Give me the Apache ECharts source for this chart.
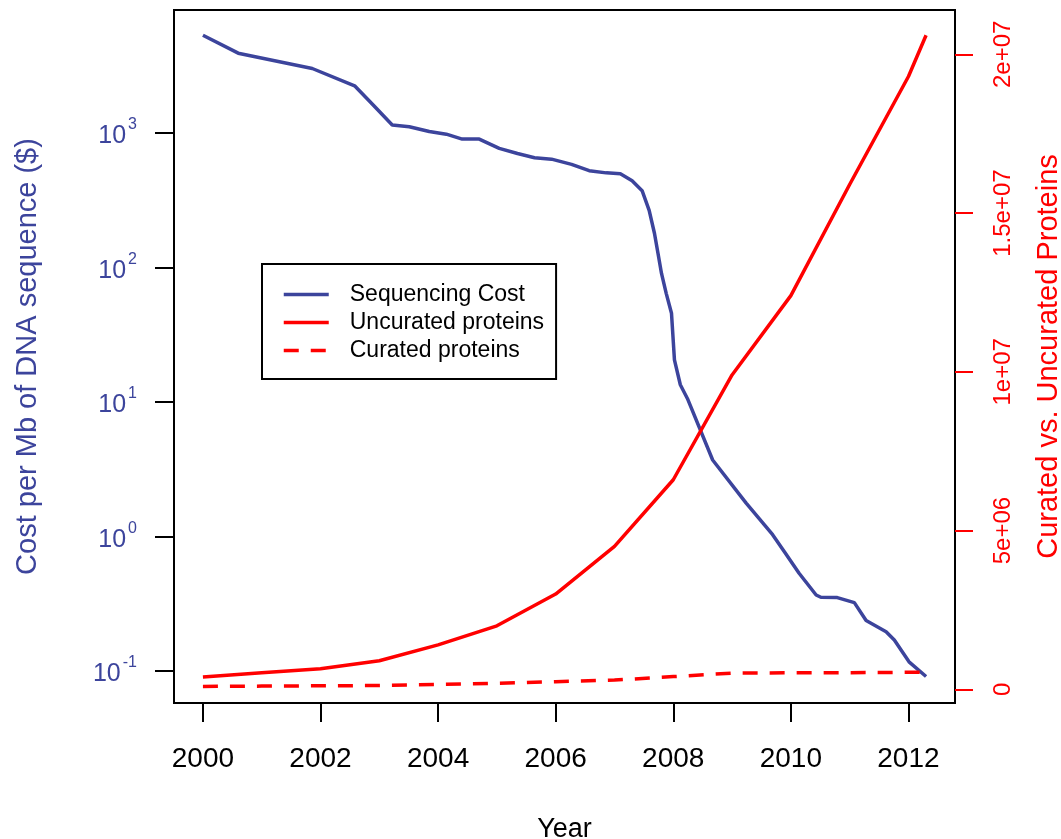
<!DOCTYPE html>
<html><head><meta charset="utf-8">
<script src="https://cdn.jsdelivr.net/npm/echarts@6/dist/echarts.min.js"></script>
<style>html,body{margin:0;padding:0;background:#fff}#c{width:1061px;height:839px}</style>
</head><body><div id="c"></div>
<script>
// ---- data ----
const costYears = [2000.0, 2000.6, 2001.86, 2002.58, 2002.9, 2003.22, 2003.51, 2003.85, 2004.14, 2004.41, 2004.70, 2005.04, 2005.35, 2005.64, 2005.93, 2006.27, 2006.57, 2006.86, 2007.10, 2007.30, 2007.47, 2007.59, 2007.68, 2007.74, 2007.80, 2007.88, 2007.97, 2008.02, 2008.12, 2008.24, 2008.67, 2009.24, 2009.69, 2009.89, 2010.14, 2010.43, 2010.51, 2010.79, 2011.08, 2011.28, 2011.62, 2011.76, 2012.01, 2012.30];
const costValues = [5300, 3900, 3000, 2230, 1600, 1140, 1108, 1020, 975, 897, 897, 765, 700, 652, 636, 582, 522, 503, 496, 440, 371, 265, 179, 127, 90, 64, 45.5, 20.5, 13.4, 10.6, 3.7, 1.77, 1.03, 0.77, 0.533, 0.367, 0.353, 0.351, 0.322, 0.237, 0.196, 0.170, 0.117, 0.091];
const proteinYears = [2000, 2001, 2002, 2003, 2004, 2005, 2006, 2007, 2008, 2009, 2010, 2011, 2012, 2012.3];
const uncurated = [390000, 520000, 650000, 900000, 1400000, 2000000, 3000000, 4500000, 6600000, 9900000, 12400000, 15900000, 19300000, 20600000];
const curated = [90000, 100000, 110000, 120000, 150000, 190000, 240000, 290000, 400000, 510000, 520000, 525000, 535000, 537000];
const xTicks = [2000, 2002, 2004, 2006, 2008, 2010, 2012];
const leftTicks = [0.1, 1, 10, 100, 1000];
const rightTicks = [0, 5000000, 10000000, 15000000, 20000000];
const rightTickLabels = ['0', '5e+06', '1e+07', '1.5e+07', '2e+07'];
const seriesNames = ['Sequencing Cost', 'Uncurated proteins', 'Curated proteins'];

const BLUE = '#3C449C', RED = '#FF0000';
const FONT = '"Liberation Sans", Arial, sans-serif';
const zip = (a, b) => a.map((v, i) => [v, b[i]]);

const chart = echarts.init(document.getElementById('c'), null, {renderer: 'canvas'});
chart.setOption({
  animation: false,
  backgroundColor: '#fff',
  textStyle: {fontFamily: FONT},
  grid: {left: 174, right: 106, top: 10, bottom: 136, show: true, borderColor: '#000', borderWidth: 2,
         backgroundColor: 'transparent', containLabel: false, outerBoundsMode: 'none'},
  legend: {
    orient: 'vertical', left: 262, top: 264,
    padding: [19, 12, 17, 20], itemGap: 5, itemWidth: 45, itemHeight: 20,
    borderColor: '#000', borderWidth: 2, backgroundColor: '#fff', borderRadius: 0,
    itemStyle: {opacity: 0},
    lineStyle: {width: 3.5},
    textStyle: {fontSize: 23, color: '#000', fontFamily: FONT, padding: [0, 0, 0, 16]},
    data: seriesNames
  },
  xAxis: {
    type: 'value', min: 1999.508, max: 2012.792,
    axisLine: {show: true, onZero: false, lineStyle: {color: '#000', width: 2}},
    axisTick: {show: true, customValues: xTicks, length: 19, lineStyle: {color: '#000', width: 2}},
    axisLabel: {customValues: xTicks, fontSize: 28, color: '#000', margin: 42, fontFamily: FONT,
                formatter: v => String(v)},
    splitLine: {show: false},
    name: 'Year', nameLocation: 'middle', nameGap: 113,
    nameTextStyle: {fontSize: 27, color: '#000', fontFamily: FONT}
  },
  yAxis: [{
    type: 'log', logBase: 10, min: 0.05784, max: 8163, position: 'left',
    axisLine: {show: true, onZero: false, lineStyle: {color: '#000', width: 2}},
    axisTick: {show: true, customValues: leftTicks, length: 19, lineStyle: {color: '#000', width: 2}},
    minorTick: {show: false},
    axisLabel: {
      customValues: leftTicks, margin: 37,
      formatter: v => '{b|10}{e|' + Math.round(Math.log10(v)) + '}',
      rich: {
        b: {fontSize: 25, color: BLUE, fontFamily: FONT, lineHeight: 32, verticalAlign: 'bottom'},
        e: {fontSize: 16, color: BLUE, fontFamily: FONT, lineHeight: 32, verticalAlign: 'top', padding: [0, 0, 0, 2]}
      }
    },
    splitLine: {show: false},
    name: 'Cost per Mb of DNA sequence ($)', nameLocation: 'middle', nameGap: 132,
    nameTextStyle: {fontSize: 29, color: BLUE, fontFamily: FONT}
  }, {
    type: 'value', min: -431500, max: 21395000, position: 'right',
    axisLine: {show: true, onZero: false, lineStyle: {color: '#000', width: 2}},
    axisTick: {show: true, customValues: rightTicks, length: 18, lineStyle: {color: RED, width: 2}},
    axisLabel: {
      customValues: rightTicks, rotate: 90, margin: 36, fontSize: 24, color: RED, fontFamily: FONT,
      formatter: v => rightTickLabels[rightTicks.indexOf(v)]
    },
    splitLine: {show: false},
    name: 'Curated vs. Uncurated Proteins', nameLocation: 'middle', nameGap: 79,
    nameTextStyle: {fontSize: 29, color: RED, fontFamily: FONT}
  }],
  series: [{
    name: seriesNames[0], type: 'line', yAxisIndex: 0, symbol: 'none', smooth: false,
    data: zip(costYears, costValues),
    lineStyle: {color: BLUE, width: 3.5}, itemStyle: {color: BLUE}, z: 2
  }, {
    name: seriesNames[1], type: 'line', yAxisIndex: 1, symbol: 'none',
    data: zip(proteinYears, uncurated),
    lineStyle: {color: RED, width: 3.5}, itemStyle: {color: RED}, z: 3
  }, {
    name: seriesNames[2], type: 'line', yAxisIndex: 1, symbol: 'none',
    data: zip(proteinYears, curated),
    lineStyle: {color: RED, width: 3.5, type: [15, 12]}, itemStyle: {color: RED}, z: 3
  }]
});
</script></body></html>
